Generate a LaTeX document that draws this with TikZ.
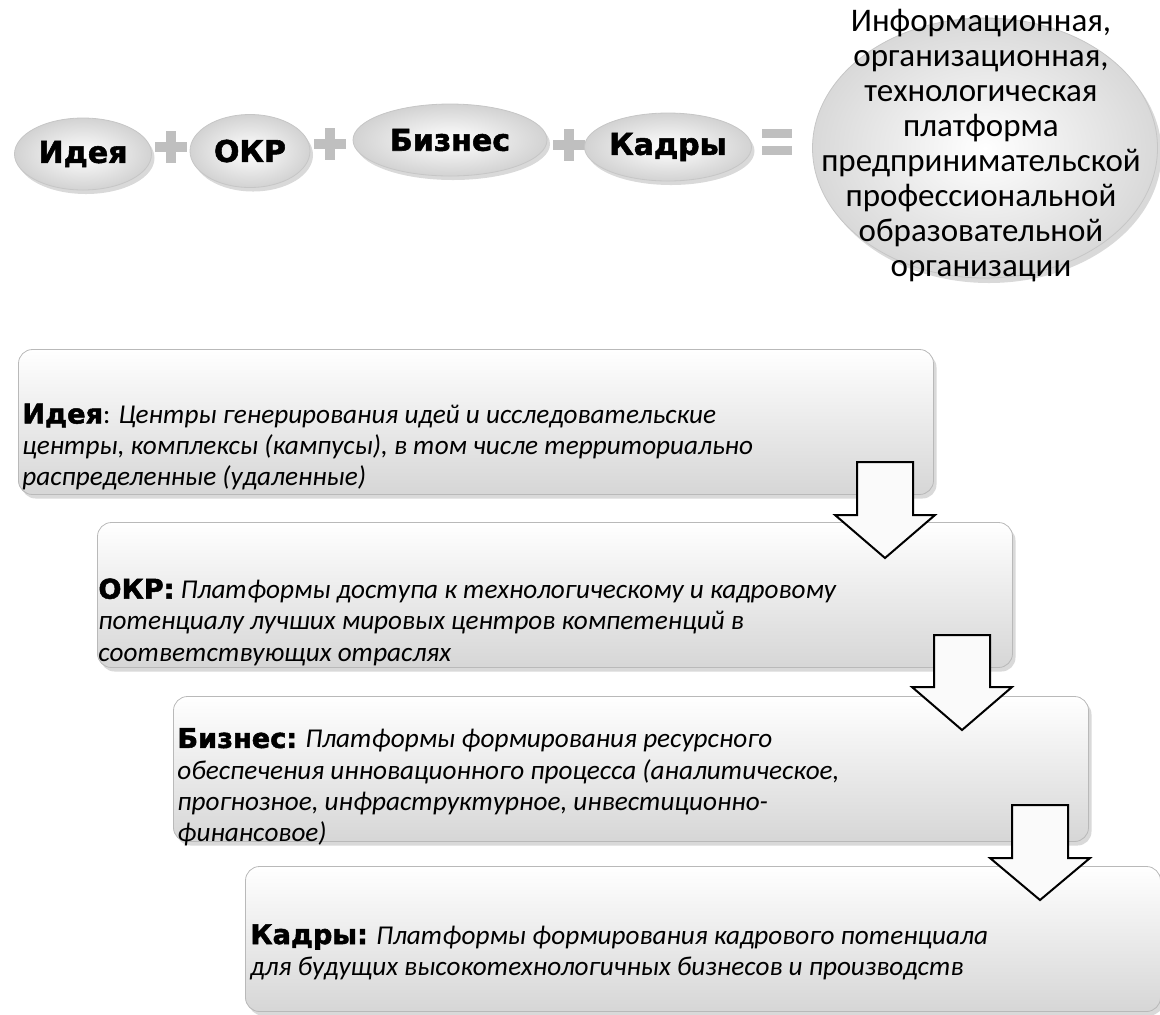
\documentclass[tikz,border=0pt]{standalone}
\usepackage{fontspec}
\setmainfont{Carlito}
\newfontfamily\heavyfont[BoldFeatures={FakeBold=1.8}]{DejaVu Sans}
\usetikzlibrary{positioning, calc, shapes.geometric, shadows}

\begin{document}
\begin{tikzpicture}[x=0.5pt, y=-0.5pt,
    oval/.style={ellipse, draw=gray!45, inner color=white, outer color=gray!35,
                 drop shadow={opacity=0.3, shadow xshift=1.5pt, shadow yshift=-2pt},
                 inner sep=0pt, font=\heavyfont\bfseries\fontsize{15}{17}\selectfont},
    bigoval/.style={ellipse, draw=gray!45, inner color=white, outer color=gray!30,
                    drop shadow={opacity=0.3, shadow xshift=2pt, shadow yshift=-2.5pt},
                    minimum width=172.5pt, minimum height=130pt},
    platformtext/.style={align=center, inner sep=0pt, font=\fontsize{16.5}{17.5}\selectfont},
    plussign/.style={minimum size=17pt, inner sep=0pt, path picture={
        \fill[gray!50] ($(path picture bounding box.center)+(-8pt,-2.6pt)$) rectangle ++(16pt,5.2pt);
        \fill[gray!50] ($(path picture bounding box.center)+(-2.6pt,-8pt)$) rectangle ++(5.2pt,16pt);}},
    equalsign/.style={minimum size=17pt, inner sep=0pt, path picture={
        \fill[gray!50] ($(path picture bounding box.center)+(-7.5pt,1.8pt)$) rectangle ++(15pt,4.5pt);
        \fill[gray!50] ($(path picture bounding box.center)+(-7.5pt,-6.3pt)$) rectangle ++(15pt,4.5pt);}},
    stepbox/.style={rectangle, rounded corners=7pt, draw=gray!55, top color=white, bottom color=gray!32,
                    drop shadow={opacity=0.3, shadow xshift=1.5pt, shadow yshift=-2pt},
                    minimum width=457.5pt, minimum height=72.5pt},
    steptext/.style={anchor=west, align=left, inner sep=0pt, font=\itshape\fontsize{13.6}{15.6}\selectfont},
    flowarrow/.style={draw=black, line width=1pt, fill=gray!4, line join=miter},
  ]
  \useasboundingbox (0,0) rectangle (1160,1014);

  % formula row
  \node[oval, minimum width=68.5pt, minimum height=36pt] (idea) at (83,154) {Идея};
  \node[plussign] (plus1) at (171,147) {};
  \node[oval, minimum width=60pt, minimum height=36.5pt] (okr) at (250,151) {ОКР};
  \node[plussign] (plus2) at (330,144) {};
  \node[oval, minimum width=97pt, minimum height=36pt] (biz) at (450,140) {Бизнес};
  \node[plussign] (plus3) at (569,145) {};
  \node[oval, minimum width=83.5pt, minimum height=34pt] (staff) at (668,147) {Кадры};
  \node[equalsign] (eq) at (777,142) {};
  \node[bigoval] (platform) at (985,148) {};
  \node[platformtext] (platformtxt) at (981,146) {Информационная,\\организационная,\\технологическая\\платформа\\предпринимательской\\профессиональной\\образовательной\\организации};

  % steps
  \node[stepbox] (b1) at (476,422) {};
  \node[stepbox] (b2) at (555,595) {};
  \node[stepbox] (b3) at (631,769) {};
  \node[stepbox] (b4) at (703,939) {};

  \node[steptext] (t1) at (22,447) {{\heavyfont\bfseries\upshape Идея}{\upshape:} Центры генерирования идей и исследовательские\\центры, комплексы (кампусы), в том числе территориально\\распределенные (удаленные)};
  \node[steptext] (t2) at (98,622) {{\heavyfont\bfseries\upshape ОКР:} Платформы доступа к технологическому и кадровому\\потенциалу лучших мировых центров компетенций в\\соответствующих отраслях};
  \node[steptext] (t3) at (177,787) {{\heavyfont\bfseries\upshape Бизнес:} Платформы формирования ресурсного\\обеспечения инновационного процесса (аналитическое,\\прогнозное, инфраструктурное, инвестиционно-\\финансовое)};
  \node[steptext] (t4) at (250,952) {{\heavyfont\bfseries\upshape Кадры:} Платформы формирования кадрового потенциала\\для будущих высокотехнологичных бизнесов и производств};

  % arrows between steps
  \draw[flowarrow] (857,462) -- (913,462) -- (913,515) -- (935,515) -- (885,558) -- (835,515) -- (857,515) -- cycle;
  \draw[flowarrow] (934,635) -- (990,635) -- (990,687) -- (1012,687) -- (962,730) -- (912,687) -- (934,687) -- cycle;
  \draw[flowarrow] (1012,805) -- (1068,805) -- (1068,858) -- (1090,858) -- (1040,900) -- (990,858) -- (1012,858) -- cycle;
\end{tikzpicture}
\end{document}
